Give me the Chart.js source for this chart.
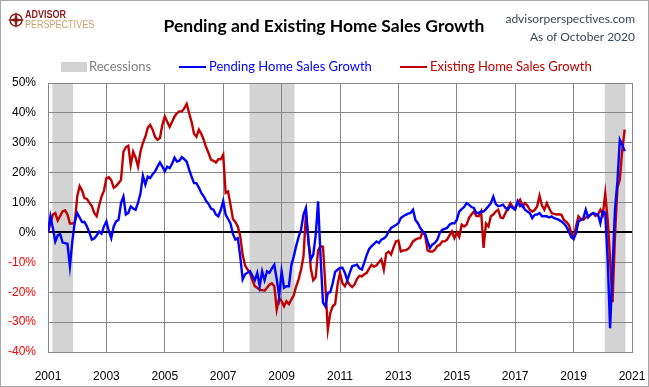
<!DOCTYPE html>
<html>
<head>
<meta charset="utf-8">
<title>Pending and Existing Home Sales Growth</title>
<script src="https://cdn.jsdelivr.net/npm/chart.js@4.4.1/dist/chart.umd.min.js"></script>
<style>
  html, body { margin: 0; padding: 0; background: #fff; }
</style>
</head>
<body>
<canvas id="homeSales" width="649" height="387"></canvas>
<script>
// monthly year-over-year growth, Jan 2001 .. Oct 2020 (percent)
const pendingSales = [
  0, 5.4, 1.5, -3, -1, -0.5, -3.4, -3.6, -3.8, -11.3, -3, 3.5,          // 2001
  6.5, 5, 3.5, 3.5, 2, 0, -2.4, -2, -1, 0.3, -0.4, 2,                     // 2002
  3.7, 0.5, -1.9, 2, 3.7, 4.2, 9.8, 12, 6, 6.5, 8.7, 8,                   // 2003
  7.6, 10, 13, 19, 16, 18.7, 18.2, 19.5, 20.4, 22, 23.4, 22,              // 2004
  20.4, 22, 21.5, 23, 25, 23.7, 24, 25.2, 24.5, 23.7, 21, 18.7,           // 2005
  16.5, 16.5, 15, 13.2, 12.1, 10.5, 9.5, 8, 7.6, 6, 5.4, 7.5,             // 2006
  10.5, 6, 4.5, 3, -0.5, -2.4, -1.9, -8, -15.7, -14, -13.5, -13,          // 2007
  -14.5, -16, -13.5, -18, -13, -16, -13, -13.5, -12, -10.8, -15.7, -21.3, // 2008
  -13, -18.5, -18, -18, -11, -8, -4.5, -1.5, 0.9, 6, 8.2, -3,             // 2009
  -9, -7.5, -1, 10.4, -8, -23.5, -24.7, -20.2, -20, -17, -13.2, -12.5,    // 2010
  -11.9, -11.8, -13.5, -16, -13.5, -11.3, -11, -10.8, -12, -12.4, -10, -7.5, // 2011
  -5.5, -4.6, -3.8, -3, -3.5, -2.4, -2, -1.3, 0.3, 1.5, 2, 2.5,           // 2012
  3.1, 4.8, 5.4, 5.9, 6.3, 6.5, 7.6, 4.2, 3.1, 1.5, 0.3, -0.5,            // 2013
  -3, -5.2, -4, -3.5, -2.4, -0.2, 0.9, 1.2, 1.5, 2.6, 3.1, 3,             // 2014
  4.2, 7, 7.8, 8.5, 9.8, 9.3, 8.5, 8.2, 6.5, 6.5, 7, 7,                   // 2015
  7.8, 8.8, 9.8, 12, 9.5, 8.8, 9, 9.3, 8.2, 7.6, 8.8, 8.2,                // 2016
  7.6, 10.4, 8.8, 9.2, 7.6, 7, 6.5, 4.8, 5.9, 6, 6.5, 5.4,                // 2017
  5.4, 5.4, 5, 5.4, 4.8, 4.5, 4.2, 3.7, 3, 2, 0.3, -1.5,                  // 2018
  -2.2, -0.2, 3.7, 4.2, 4.8, 7.6, 5, 5.9, 6.5, 6.2, 6, 3.1,               // 2019
  7, 6.5, -9, -32, -12, 7.6, 17, 31, 29.3, 27.2                           // 2020
];

const existingSales = [
  0, 3, 6, 6.5, 4, 5.5, 7, 7.4, 6, 3, 3, 3.2,                             // 2001
  12, 15.5, 14, 11.5, 11.2, 10, 8.8, 6.5, 5.4, 9, 12, 14,                 // 2002
  18.2, 18.5, 17.5, 14.9, 15.5, 16.5, 17.5, 27, 28.5, 29, 22.6, 27,       // 2003
  25, 22, 27, 30, 32, 35, 36, 34.4, 32, 31, 31.6, 36,                     // 2004
  38.8, 37, 35.3, 37, 38.8, 39.9, 40.5, 40.5, 41.5, 43, 39.9, 37,         // 2005
  33, 32, 34.4, 33, 31, 28.5, 26.5, 24.3, 24, 23.4, 24.5, 24.5,           // 2006
  26, 13.2, 13.7, 9.3, 4.5, 3.5, 2, -1.3, -7.5, -11, -12.4, -13.6,        // 2007
  -16, -18, -18.5, -19.2, -19.3, -19.5, -18.5, -17.5, -17, -18, -25.8, -21.9, // 2008
  -23, -24.7, -23, -24, -22.5, -21, -18, -15.7, -12.4, -8, 6.5, -2,       // 2009
  -12, -16, -15, -6, -4.6, -4.8, -18, -32.5, -27, -24.7, -24, -17.5,      // 2010
  -13.5, -17, -18, -16.3, -17.5, -18.3, -17.4, -15.5, -14.5, -14.7, -14, -13.5, // 2011
  -12, -10.8, -11.5, -11, -10, -9, -12.5, -7, -6.4, -7.4, -5, -3,         // 2012
  -2.7, -6.4, -6, -6, -5.5, -4.5, -3, -2.4, -2, -1.9, 0.3, -1,            // 2013
  -6, -6.4, -6.4, -5.8, -4.5, -4.2, -3, -3, -2.4, -1, 0.3, -1.9,          // 2014
  0, -1.5, 2.6, 2, 2.6, 4.8, 6, 7, 5.5, 5.4, 7, -5.2,                     // 2015
  3, 2, 5.4, 6, 7, 7.6, 5, 4.8, 6.5, 8.2, 9.8, 8.5,                       // 2016
  8.2, 10, 11, 8.7, 9.8, 9, 7.6, 7, 7.5, 8.7, 12.3, 9,                    // 2017
  7.6, 9.8, 8, 6.5, 6.2, 6, 6.1, 5.9, 4.2, 3.5, 2.6, 0,                   // 2018
  -1.9, 2, 5.4, 4.5, 4.2, 5, 5.4, 6, 6.5, 5.5, 6, 7.6,                    // 2019
  6, 13, 4.2, -9, -23.3, -1.3, 14.9, 17.7, 27.7, 34.4                     // 2020
];

const startYear = 2001;
const yearTicks = [2001, 2003, 2005, 2007, 2009, 2011, 2013, 2015, 2017, 2019, 2021];
const recessionStarts = ['2001-03', '2007-12', '2020-02'];
const recessionEnds = ['2001-11', '2009-06', '2020-10'];

const monthIndex = (s) => {
    const [y, m] = s.split('-').map(Number);
    return (y - startYear) * 12 + (m - 1);
};
const toPoints = (arr) => arr.map((y, i) => ({ x: i, y }));

const gridGray = '#888888';
const tickFont = { family: '"Liberation Sans", Arial, sans-serif', size: 12 };

// gray bands behind the grid
const recessionShading = {
    id: 'recessionShading',
    beforeDraw(chart) {
        const { ctx, chartArea, scales: { x } } = chart;
        ctx.save();
        ctx.fillStyle = '#fff';
        ctx.fillRect(0, 0, chart.width, chart.height);
        ctx.fillStyle = '#d3d3d3';
        recessionStarts.forEach((s, i) => {
            const x0 = x.getPixelForValue(monthIndex(s) - 0.2);
            const x1 = x.getPixelForValue(monthIndex(recessionEnds[i]) + 0.3);
            ctx.fillRect(x0, chartArea.top, x1 - x0, chartArea.bottom - chartArea.top);
        });
        ctx.restore();
    }
};

// logo, title, source text, legend and frame
const header = {
    id: 'header',
    afterDraw(chart) {
        const { ctx } = chart;
        ctx.save();

        // logo
        ctx.strokeStyle = '#8b1d1d';
        ctx.fillStyle = '#8b1d1d';
        ctx.lineWidth = 1.5;
        ctx.beginPath();
        ctx.arc(16, 20, 6, 0, Math.PI * 2);
        ctx.stroke();
        ctx.beginPath();
        ctx.moveTo(16, 11); ctx.lineTo(17.5, 18.5); ctx.lineTo(25, 20); ctx.lineTo(17.5, 21.5);
        ctx.lineTo(16, 29); ctx.lineTo(14.5, 21.5); ctx.lineTo(7, 20); ctx.lineTo(14.5, 18.5);
        ctx.closePath();
        ctx.fill();
        ctx.textBaseline = 'middle';
        ctx.textAlign = 'left';
        ctx.save();
        ctx.translate(25, 0);
        ctx.scale(0.82, 1);
        ctx.font = 'bold 11px "Liberation Sans", sans-serif';
        ctx.fillText('ADVISOR', 0, 15);
        ctx.fillStyle = '#c9a16a';
        ctx.font = '11px "Liberation Sans", sans-serif';
        ctx.fillText('PERSPECTIVES', 0, 25);
        ctx.restore();

        // title
        ctx.fillStyle = '#000';
        ctx.textAlign = 'center';
        ctx.font = 'bold 17.5px Lato, sans-serif';
        ctx.fillText('Pending and Existing Home Sales Growth', 324, 26);

        // source
        ctx.fillStyle = '#3c4653';
        ctx.textAlign = 'right';
        ctx.font = '12px Lato, sans-serif';
        ctx.fillText('advisorperspectives.com', 635, 19);
        ctx.fillText('As of October 2020', 635, 37);

        // legend
        ctx.textAlign = 'left';
        ctx.font = '13px Lato, sans-serif';
        ctx.fillStyle = '#d3d3d3';
        ctx.fillRect(61, 62, 26, 10);
        ctx.fillStyle = '#808080';
        ctx.fillText('Recessions', 89, 67);
        chart.data.datasets.forEach((ds, i) => {
            const lx = [179, 400][i];
            ctx.strokeStyle = ds.borderColor;
            ctx.lineWidth = 2;
            ctx.beginPath();
            ctx.moveTo(lx, 67);
            ctx.lineTo(lx + 27, 67);
            ctx.stroke();
            ctx.fillStyle = ds.borderColor;
            ctx.fillText(ds.label, lx + 30, 67);
        });

        // frame
        ctx.strokeStyle = '#a6a6a6';
        ctx.lineWidth = 1;
        ctx.strokeRect(0.5, 0.5, chart.width - 1, chart.height - 1);
        ctx.restore();
    }
};

new Chart(document.getElementById('homeSales'), {
    type: 'line',
    data: {
        datasets: [
            {
                label: 'Pending Home Sales Growth',
                data: toPoints(pendingSales),
                borderColor: '#0000ff',
                borderWidth: 2.4,
                pointRadius: 0,
                tension: 0
            },
            {
                label: 'Existing Home Sales Growth',
                data: toPoints(existingSales),
                borderColor: '#c00000',
                borderWidth: 2.4,
                pointRadius: 0,
                tension: 0
            }
        ]
    },
    options: {
        responsive: false,
        animation: false,
        events: [],
        layout: { padding: { top: 83, right: 0, left: 0, bottom: 0 } },
        plugins: {
            legend: { display: false },
            title: { display: false },
            tooltip: { enabled: false }
        },
        scales: {
            x: {
                type: 'linear',
                min: 0,
                max: 240,
                afterBuildTicks: (s) => { s.ticks = yearTicks.map(y => ({ value: (y - startYear) * 12 })); },
                afterFit: (s) => {
                    s.height = 35;
                    s.paddingLeft = 0;
                    s.paddingRight = 17;
                },
                ticks: {
                    autoSkip: false,
                    maxRotation: 0,
                    padding: 17,
                    color: '#000',
                    font: tickFont,
                    callback: (v) => String(startYear + Math.round(v / 12))
                },
                grid: { color: gridGray, drawTicks: false },
                border: { color: gridGray }
            },
            y: {
                min: -40,
                max: 50,
                afterFit: (s) => { s.width = 48; },
                ticks: {
                    stepSize: 10,
                    padding: 12,
                    font: tickFont,
                    color: (c) => c.tick.value < 0 ? '#ff0000' : '#000',
                    callback: (v) => v + '%'
                },
                grid: {
                    color: (c) => c.tick.value === 0 ? '#000' : gridGray,
                    lineWidth: (c) => c.tick.value === 0 ? 2 : 1,
                    drawTicks: false
                },
                border: { color: gridGray }
            }
        }
    },
    plugins: [recessionShading, header]
});
</script>
</body>
</html>
